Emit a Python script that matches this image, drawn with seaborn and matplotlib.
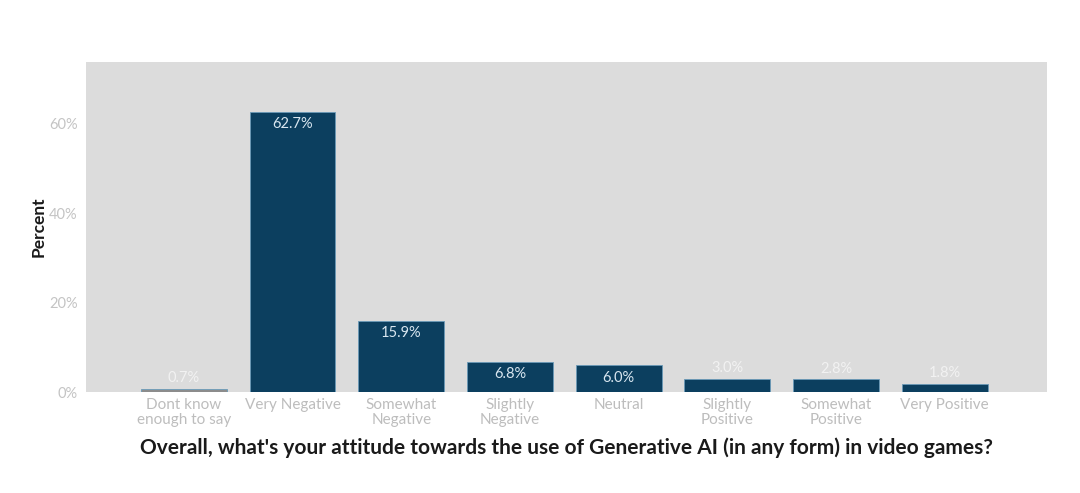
import pandas as pd
import matplotlib.pyplot as plt
import seaborn as sns

# Survey answers and share of respondents (%)
categories = ['Dont know\nenough to say', 'Very Negative', 'Somewhat\nNegative', 'Slightly\nNegative',
              'Neutral', 'Slightly\nPositive', 'Somewhat\nPositive', 'Very Positive']
percent = [0.7, 62.7, 15.9, 6.8, 6.0, 3.0, 2.8, 1.8]
labels = ['0.7%', '62.7%', '15.9%', '6.8%', '6.0%', '3.0%', '2.8%', '1.8%']
y_ticks = [0, 20, 40, 60]

data = pd.DataFrame({'answer': categories, 'percent': percent})
colors = ['#8c8c8c'] + ['#0c3f5f'] * (len(categories) - 1)

sns.set_style('white')
plt.rcParams['font.family'] = ['Lato', 'DejaVu Sans']

fig = plt.figure(figsize=(10.8, 4.93), dpi=100)
ax = fig.add_axes([86 / 1080, 1 - 392 / 493, (1047 - 86) / 1080, (392 - 62) / 493])
ax.set_facecolor('#dcdcdc')

sns.barplot(data=data, x='answer', y='percent', hue='answer', palette=colors,
            legend=False, width=0.79, saturation=1, linewidth=0.6,
            edgecolor='#6a9ab8', ax=ax)

# Value labels: inside the bar for tall bars, above it for short ones
for i, (v, lab) in enumerate(zip(percent, labels)):
    if v > 5:
        ax.text(i, v - 1.2, lab, ha='center', va='top', color='#d8e6f0', fontsize=10.5)
    else:
        ax.text(i, v + 0.8, lab, ha='center', va='bottom', color='#f2f2f2', fontsize=10.5)

ax.set_xlim(-0.9, len(categories) - 1 + 0.94)
ax.set_ylim(0, 73.8)
ax.set_yticks(y_ticks)
ax.set_yticklabels([f'{t}%' for t in y_ticks])
ax.tick_params(axis='y', colors='#c4c4c4', labelsize=10.5, length=0, pad=6)
ax.tick_params(axis='x', colors='#bdbdbd', labelsize=11, length=0, pad=4)
for lab in ax.get_xticklabels():
    lab.set_linespacing(1.1)
for s in ax.spines.values():
    s.set_visible(False)

ax.set_ylabel('Percent', fontsize=12.5, fontweight='bold', color='#1a1a1a', labelpad=2)
ax.set_xlabel("Overall, what's your attitude towards the use of Generative AI (in any form) in video games?",
              fontsize=15, fontweight='bold', color='#1a1a1a', labelpad=8)

plt.savefig('out.png', dpi=100)
plt.close()
